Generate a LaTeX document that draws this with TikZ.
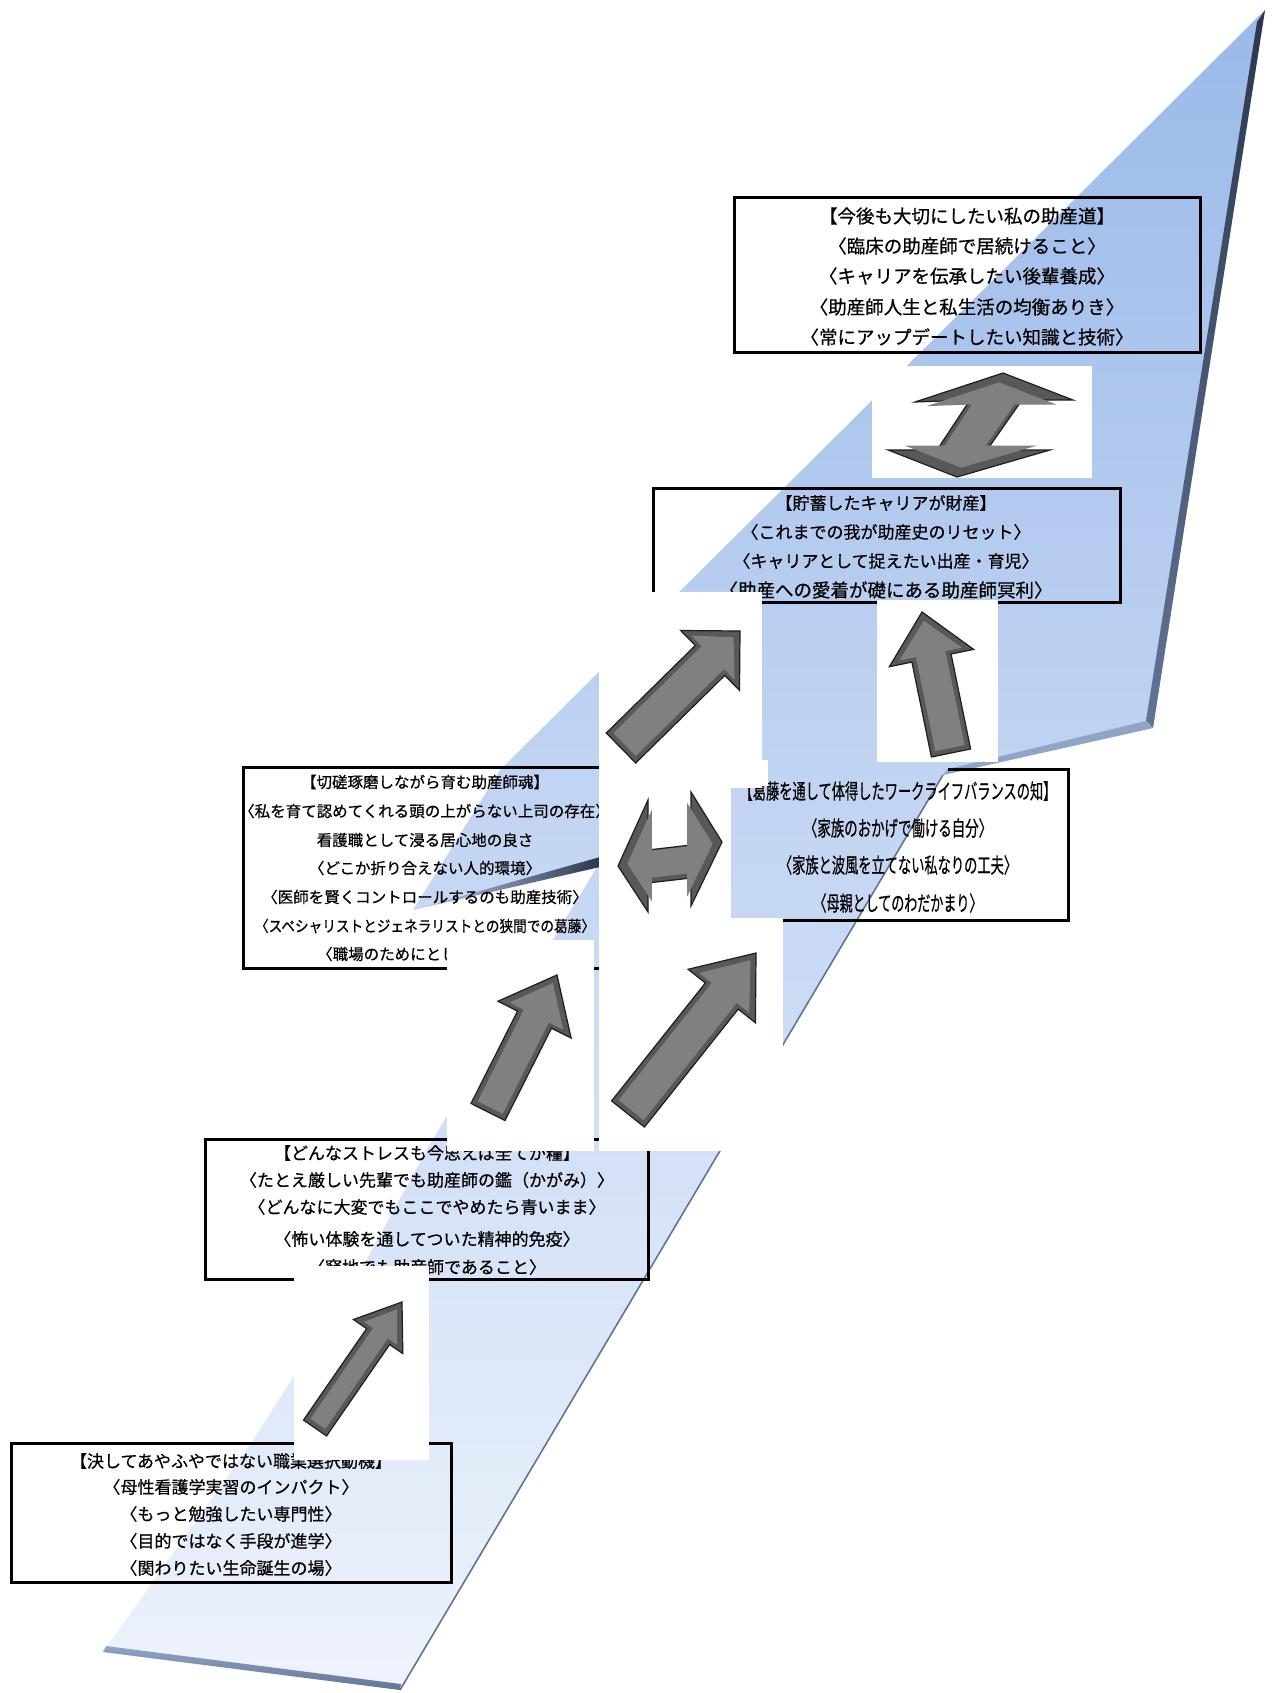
\documentclass[tikz,border=0pt]{standalone}
\usepackage{fontspec}
\usepackage{graphicx}
\newfontfamily\jp{Noto Sans CJK JP}[FakeBold=0.6]
\usetikzlibrary{calc}

\definecolor{ribtop}{RGB}{155,185,233}
\definecolor{ribmid}{RGB}{190,210,243}
\definecolor{ribbot}{RGB}{238,243,252}
\definecolor{arrface}{RGB}{128,128,128}
\definecolor{arrbevel}{RGB}{88,88,88}
\definecolor{arrline}{RGB}{30,30,30}
\definecolor{edgedark}{RGB}{44,55,78}
\definecolor{edgemid}{RGB}{98,116,150}
\definecolor{edgelight}{RGB}{146,164,198}

% block arrow: name, tail, tip, half shaft, half head, head length,
% inner half shaft, inner half head
\newcommand\blockarr[8]{%
  \coordinate (#1t) at #2;
  \coordinate (#1p) at #3;
  \coordinate (#1b) at ($(#1p)!#6!(#1t)$);
  \filldraw[arrouter]
    ($(#1t)!#4!90:(#1p)$) -- ($(#1b)!#4!90:(#1p)$) -- ($(#1b)!#5!90:(#1p)$)
    -- (#1p) -- ($(#1b)!#5!-90:(#1p)$) -- ($(#1b)!#4!-90:(#1p)$)
    -- ($(#1t)!#4!-90:(#1p)$) -- cycle;
  \coordinate (#1ti) at ($(#1t)!5pt!(#1p)$);
  \coordinate (#1pi) at ($(#1p)!9pt!(#1t)$);
  \coordinate (#1bi) at ($(#1b)!4pt!(#1p)$);
  \fill[arrinner]
    ($(#1ti)!#7!90:(#1p)$) -- ($(#1bi)!#7!90:(#1p)$) -- ($(#1bi)!#8!90:(#1p)$)
    -- (#1pi) -- ($(#1bi)!#8!-90:(#1p)$) -- ($(#1bi)!#7!-90:(#1p)$)
    -- ($(#1ti)!#7!-90:(#1p)$) -- cycle;
}

\begin{document}
\begin{tikzpicture}[x=1pt,y=-1pt,
  frame/.style={draw=black, line width=3pt, inner sep=0pt},
  frameline/.style={draw=black, line width=3pt, line cap=rect},
  tile/.style={fill=white, draw=none},
  arrouter/.style={fill=arrbevel, draw=arrline, line width=1.2pt, line join=miter},
  arrinner/.style={fill=arrface, draw=none},
  tA/.style={font=\jp\fontsize{18.5}{22}\selectfont, inner sep=0pt},
  tB/.style={font=\jp\fontsize{17}{20}\selectfont, inner sep=0pt},
  tC/.style={font=\jp\fontsize{15.5}{18}\selectfont, inner sep=0pt},
  tD/.style={font=\jp\fontsize{21}{24}\selectfont, inner sep=0pt}]

\useasboundingbox (0,0) rectangle (1274,1693);

% the rising band
\shade[top color=ribtop, middle color=ribmid, bottom color=ribbot]
  (103,1652) -- (250,1445) -- (356,1279) -- (430,1144) -- (600,862)
  -- (413,910) -- (500,770) -- (1265,10) -- (1153,728) -- (943,775)
  -- (400,1690) -- cycle;
% bevels of the band
\shade[top color=edgedark, bottom color=edgemid]
  (1265,10) -- (1153,728) -- (1146,721) -- (1257,22) -- cycle;
\fill[edgelight] (1153,728) -- (943,775) -- (948,769) -- (1146,721) -- cycle;
\draw[edgemid, line width=1.6pt] (943,775) -- (400,1690);
\shade[top color=edgelight, bottom color=edgemid]
  (106,1646) -- (401,1684) -- (400,1690) -- (103,1652) -- cycle;
\shade[left color=ribmid, right color=edgedark]
  (413,910) -- (600,857) -- (600,867) -- cycle;

% frames
\node[frame, minimum width=466pt, minimum height=154pt] (box6) at (967,275) {};
\node[frame, minimum width=467pt, minimum height=114pt] (box5) at (886.5,545) {};
\node[frame, minimum width=364pt, minimum height=201pt] (box3) at (425,867.5) {};
\node[minimum width=340pt, minimum height=150pt, inner sep=0pt] (box4) at (898,845) {};
\draw[frameline] (box4.north west) ++(222,0) -- (box4.north east)
  -- (box4.south east) -- (box4.south west) -- (box4.north west);
\node[frame, minimum width=443pt, minimum height=140pt] (box2) at (426.5,1209) {};
\node[frame, minimum width=440pt, minimum height=139pt] (box1) at (231,1512.5) {};

% texts
\node[tA] (b6a) at (967,216) {【今後も大切にしたい私の助産道】};
\node[tA] (b6b) at (967,246) {〈臨床の助産師で居続けること〉};
\node[tA] (b6c) at (967,276) {〈キャリアを伝承したい後輩養成〉};
\node[tA] (b6d) at (967,307) {〈助産師人生と私生活の均衡ありき〉};
\node[tA] (b6e) at (967,337) {〈常にアップデートしたい知識と技術〉};

\node[tB] (b5a) at (886,503) {【貯蓄したキャリアが財産】};
\node[tB] (b5b) at (886,532) {〈これまでの我が助産史のリセット〉};
\node[tB] (b5c) at (886,561) {〈キャリアとして捉えたい出産・育児〉};
\node[tA] (b5d) at (886,590) {〈助産への愛着が礎にある助産師冥利〉};

\node[tC] (b3a) at (425,782) {【切磋琢磨しながら育む助産師魂】};
\node[tC] (b3b) at (425,811) {〈私を育て認めてくれる頭の上がらない上司の存在〉};
\node[tC] (b3c) at (425,840) {看護職として浸る居心地の良さ};
\node[tC] (b3d) at (425,868) {〈どこか折り合えない人的環境〉};
\node[tC] (b3e) at (425,897) {〈医師を賢くコントロールするのも助産技術〉};
\node[tC] (b3f) at (425,926) {\scalebox{0.88}[1]{〈スペシャリストとジェネラリストとの狭間での葛藤〉}};
\node[tC, anchor=west] (b3g) at (317,954) {〈職場のためにとし};

\node[tD] (b4a) at (898,791) {\scalebox{0.63}[1]{【葛藤を通して体得したワークライフバランスの知】}};
\node[tD] (b4b) at (898,828) {\scalebox{0.64}[1]{〈家族のおかげで働ける自分〉}};
\node[tD] (b4c) at (898,865) {\scalebox{0.63}[1]{〈家族と波風を立てない私なりの工夫〉}};
\node[tD] (b4d) at (898,903) {\scalebox{0.62}[1]{〈母親としてのわだかまり〉}};

\node[tB] (b2a) at (427,1153) {【どんなストレスも今思えば全てが糧】};
\node[tB] (b2b) at (427,1180) {〈たとえ厳しい先輩でも助産師の鑑（かがみ）〉};
\node[tB] (b2c) at (427,1207) {〈どんなに大変でもここでやめたら青いまま〉};
\node[tB] (b2d) at (427,1239) {〈怖い体験を通してついた精神的免疫〉};
\node[tB] (b2e) at (427,1267) {〈窮地でも助産師であること〉};

\node[tB] (b1a) at (231,1461) {【決してあやふやではない職業選択動機】};
\node[tB] (b1b) at (231,1487) {〈母性看護学実習のインパクト〉};
\node[tB] (b1c) at (231,1514) {〈もっと勉強したい専門性〉};
\node[tB] (b1d) at (231,1541) {〈目的ではなく手段が進学〉};
\node[tB] (b1e) at (231,1568) {〈関わりたい生命誕生の場〉};

% white grounds of the arrows
\fill[tile] (294,1266) rectangle (429,1460);
\fill[tile] (447,940) rectangle (594,1151);
\fill[tile] (599,918) rectangle (783,1151);
\fill[tile] (599,592) rectangle (762,788);
\fill[tile] (877,600) rectangle (998,762);
\fill[tile] (599,786) rectangle (731,920);
\fill[tile] (731,760) rectangle (768,786);
\fill[tile] (872,366) rectangle (1092,478);

% single arrows
\blockarr{aa}{(315,1428)}{(402,1302)}{14pt}{30pt}{42pt}{9pt}{20pt}
\blockarr{ab}{(488,1112)}{(557,975)}{19pt}{41pt}{50pt}{14pt}{30pt}
\blockarr{ac}{(628,1114)}{(756,953)}{21pt}{43pt}{55pt}{16pt}{32pt}
\blockarr{ad}{(621,748)}{(740,631)}{21pt}{42pt}{42pt}{16pt}{31pt}
\blockarr{ae}{(951,753)}{(922,612)}{20pt}{43pt}{47pt}{15pt}{32pt}

% double arrow between the middle frames
\filldraw[arrouter] (618,866) -- (648,800) -- (648,850) -- (691,845) -- (691,792)
  -- (722,842) -- (691,906) -- (691,878) -- (648,883) -- (648,912) -- cycle;
\begin{scope}[shift={(670,853)}, scale=0.82, shift={(-670,-853)}]
\fill[arrinner] (618,866) -- (648,800) -- (648,850) -- (691,845) -- (691,792)
  -- (722,842) -- (691,906) -- (691,878) -- (648,883) -- (648,912) -- cycle;
\end{scope}

% double arrow between the top frames
\filldraw[arrouter] (1003,373) -- (1073,400) -- (1022,400) -- (987,450) -- (1050,450)
  -- (957,477) -- (888,450) -- (937,450) -- (970,400) -- (915,402) -- cycle;
\begin{scope}[shift={(980,425)}, scale=0.82, shift={(-980,-425)}]
\fill[arrinner] (1003,373) -- (1073,400) -- (1022,400) -- (987,450) -- (1050,450)
  -- (957,477) -- (888,450) -- (937,450) -- (970,400) -- (915,402) -- cycle;
\end{scope}

\end{tikzpicture}
\end{document}
